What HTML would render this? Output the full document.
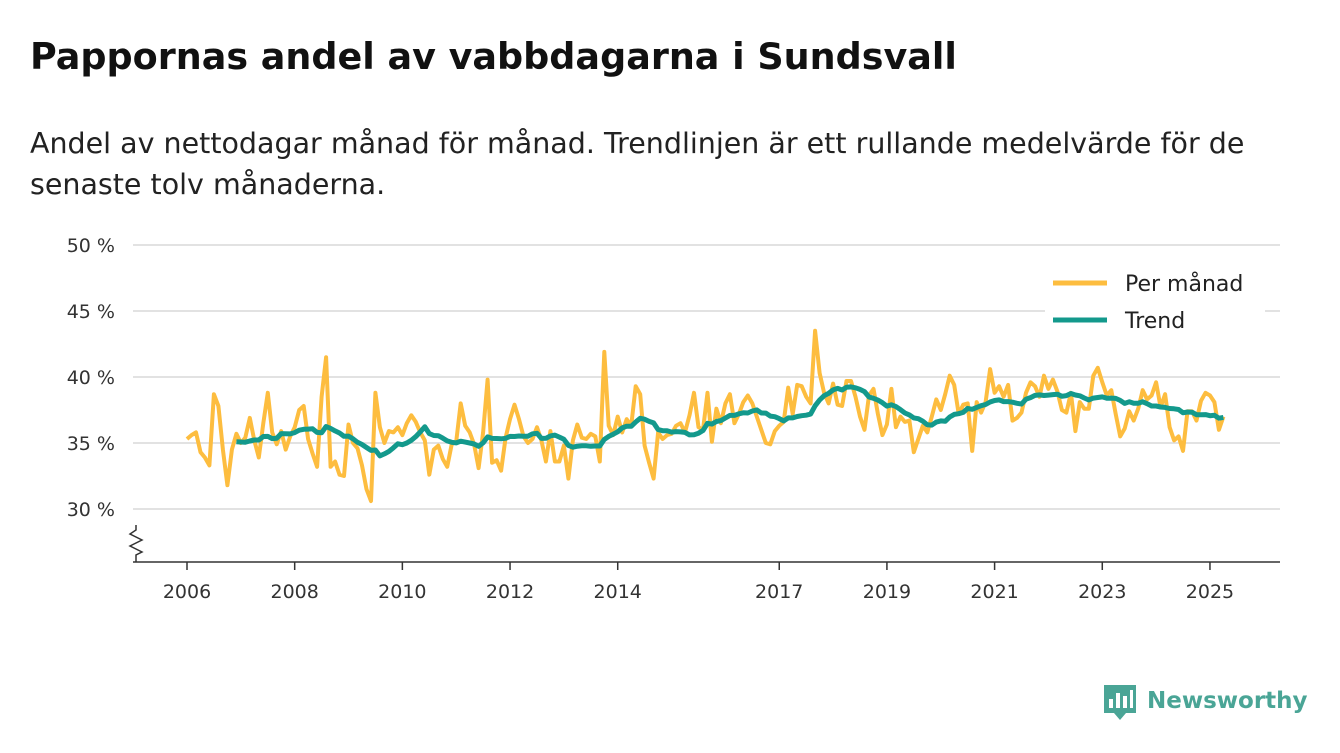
<!DOCTYPE html>
<html><head><meta charset="utf-8">
<style>
body{margin:0;background:#fff;width:1340px;height:753px;overflow:hidden;font-family:"DejaVu Sans","Liberation Sans",sans-serif;color:#111}
h1{position:absolute;left:30px;top:35px;margin:0;font-size:36.5px;font-weight:bold;letter-spacing:0px}
p.sub{position:absolute;left:30px;top:123px;margin:0;font-size:28.5px;line-height:41px;color:#222;width:1262px}
svg{position:absolute;left:0;top:0}
svg text{font-family:"DejaVu Sans","Liberation Sans",sans-serif}
</style></head><body>
<h1>Pappornas andel av vabbdagarna i Sundsvall</h1>
<p class="sub">Andel av nettodagar månad för månad. Trendlinjen är ett rullande medelvärde för de senaste tolv månaderna.</p>
<svg id="chart" width="1340" height="753"></svg>
<script>
const startYear = 2006;
const monthly = [
35.3,35.6,35.8,34.3,33.9,33.3,38.7,37.8,34.5,31.8,34.5,35.7,
35.0,35.4,36.9,35.2,33.9,36.5,38.8,35.8,34.9,35.9,34.5,35.5,
36.2,37.5,37.8,35.3,34.2,33.2,38.5,41.5,33.2,33.6,32.6,32.5,
36.4,35.0,34.6,33.3,31.5,30.6,38.8,36.2,35.0,35.9,35.8,36.2,
35.6,36.5,37.1,36.6,35.8,35.2,32.6,34.5,34.8,33.8,33.2,34.9,
35.1,38.0,36.3,35.8,34.9,33.1,35.8,39.8,33.5,33.7,32.9,35.4,
36.8,37.9,36.8,35.5,35.0,35.3,36.2,35.2,33.6,35.9,33.6,33.6,
34.8,32.3,35.2,36.4,35.4,35.3,35.7,35.5,33.6,41.9,36.3,35.6,
37.0,35.8,36.8,36.3,39.3,38.7,34.8,33.5,32.3,35.8,35.3,35.6,
35.7,36.3,36.5,35.8,37.1,38.8,36.2,36.0,38.8,35.1,37.6,36.5,
38.0,38.7,36.5,37.2,38.1,38.6,38.0,37.0,36.0,35.0,34.9,35.9,
36.3,36.6,39.2,37.2,39.4,39.3,38.5,38.0,43.5,40.3,38.8,38.0,
39.5,37.9,37.8,39.7,39.7,38.5,37.0,36.0,38.6,39.1,37.2,35.6,
36.4,39.1,36.2,37.0,36.6,36.7,34.3,35.3,36.3,35.8,37.0,38.3,
37.5,38.7,40.1,39.4,37.2,37.9,38.0,34.4,38.1,37.3,38.1,40.6,
38.8,39.3,38.5,39.4,36.7,36.9,37.3,38.8,39.6,39.3,38.5,40.1,
39.1,39.8,38.9,37.5,37.3,38.8,35.9,38.1,37.6,37.6,40.1,40.7,
39.6,38.6,39.0,37.2,35.5,36.1,37.4,36.7,37.6,39.0,38.3,38.6,
39.6,37.7,38.7,36.2,35.2,35.5,34.4,37.4,37.4,36.7,38.2,38.8,
38.6,38.1,36.0,37.0];
const yTicks = [30,35,40,45,50];
const xTickYears = [2006,2008,2010,2012,2014,2017,2019,2021,2023,2025];

const NS="http://www.w3.org/2000/svg";
const svg=document.getElementById('chart');
const X = t => 187 + (t - startYear) * 53.84;
const Y = v => 509 - (v - 30) * 13.2;
function el(tag, attrs){const e=document.createElementNS(NS,tag);for(const k in attrs)e.setAttribute(k,attrs[k]);svg.appendChild(e);return e;}

yTicks.forEach(v=>{
  const g=el('line',{x1:133,x2:1280,y1:Y(v),y2:Y(v),stroke:'#d9d9d9','stroke-width':1.5});
  
  
  const t=el('text',{x:115,y:Y(v)+7,'text-anchor':'end','font-size':19,fill:'#333'});
  t.textContent=v+' %';
  
  
});
const ax=el('line',{x1:133,x2:1280,y1:562,y2:562,stroke:'#333','stroke-width':1.5});


const brk=el('path',{d:'M136 525 L136 530 L130 534 L142 540 L130 546 L142 552 L136 555 L136 562',fill:'none',stroke:'#333','stroke-width':1.5});


xTickYears.forEach(yr=>{
  const x=X(yr);
  const tk=el('line',{x1:x,x2:x,y1:562,y2:570,stroke:'#333','stroke-width':1.5});
  
  
  const t=el('text',{x:x,y:598,'text-anchor':'middle','font-size':19,fill:'#333'});
  t.textContent=yr;
  
  
});
const mPts=monthly.map((v,i)=>X(startYear+i/12).toFixed(1)+','+Y(v).toFixed(1));
const ml=el('polyline',{points:mPts.join(' '),fill:'none',stroke:'#fdbd3f','stroke-width':4,'stroke-linejoin':'round'});


const tPts=[];
for(let i=11;i<monthly.length;i++){
  let s=0;for(let j=i-11;j<=i;j++)s+=monthly[j];
  tPts.push(X(startYear+i/12).toFixed(1)+','+Y(s/12).toFixed(1));
}
const tl=el('polyline',{points:tPts.join(' '),fill:'none',stroke:'#13998c','stroke-width':5,'stroke-linejoin':'round'});



const lbg=el('rect',{x:1045,y:262,width:220,height:78,fill:'#fff'});


[['Per månad','#fdbd3f',283],['Trend','#13998c',320]].forEach(([n,c,y],i)=>{
  const l=el('line',{x1:1053,x2:1107,y1:y,y2:y,stroke:c,'stroke-width':5});
  
  
  const t=el('text',{x:1125,y:y+8,'font-size':22,fill:'#222'});
  t.textContent=n;
  
  
});

const logo=el('g',{});


logo.innerHTML='<path d="M1104 685 h32 v28 h-10 l-6 7 l-6 -7 h-10 z" fill="#4aa596"/><rect x="1109" y="699" width="4" height="9" fill="#fff"/><rect x="1116" y="693" width="4" height="15" fill="#fff"/><rect x="1123" y="696" width="4" height="12" fill="#fff"/><rect x="1130" y="690" width="3" height="18" fill="#fff"/><text x="1147" y="708" font-size="23" font-weight="bold" fill="#4aa596">Newsworthy</text>';
</script>
</body></html>
